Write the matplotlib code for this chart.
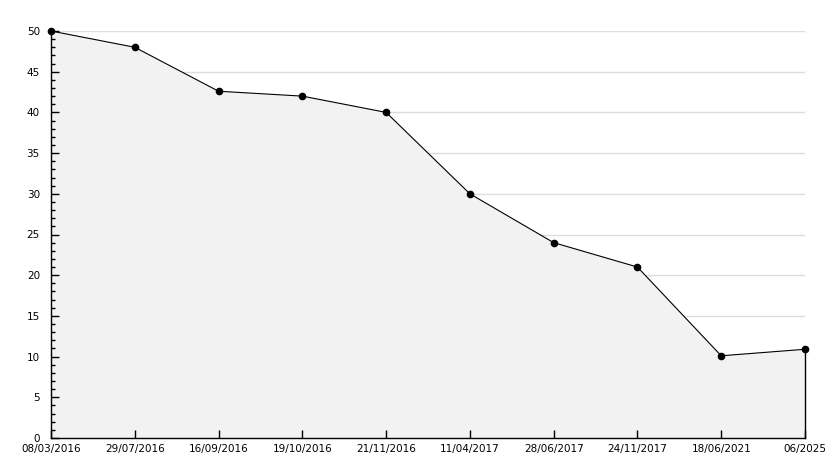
#!/usr/bin/env python3

import numpy as np
import matplotlib
matplotlib.use('Agg')
import matplotlib.pyplot as plt
from matplotlib.ticker import MultipleLocator

labels = ['08/03/2016', '29/07/2016', '16/09/2016', '19/10/2016', '21/11/2016',
          '11/04/2017', '28/06/2017', '24/11/2017', '18/06/2021', '06/2025']
values = [50, 48, 42.6, 42, 40, 30, 24, 21, 10.1, 10.9]

x = np.arange(len(labels))

fig = plt.figure(figsize=(8.34, 4.68), dpi=100)
ax = fig.add_axes([51/834, 30/468, 754/834, 407/468])

ax.set_xlim(x[0], x[-1])
ax.set_ylim(0, 50)
ax.set_xticks(x)
ax.set_xticklabels(labels)
ax.yaxis.set_major_locator(MultipleLocator(5))
ax.yaxis.set_minor_locator(MultipleLocator(1))

# grid drawn underneath the filled area
ax.hlines(np.arange(5, 51, 5), x[0], x[-1], color='#dddddd', lw=1.0, zorder=0)

ax.fill_between(x, values, 0, color='#f2f2f2', lw=0, zorder=1)
ax.plot(x, values, color='black', lw=0.8, marker='o', ms=4.5, zorder=4,
        clip_on=False)
# right edge of the filled area
ax.plot([x[-1], x[-1]], [0, values[-1]], color='black', lw=1.0, zorder=4,
        clip_on=False)

for s in ['top', 'right']:
    ax.spines[s].set_visible(False)
for s in ['left', 'bottom']:
    ax.spines[s].set_linewidth(1.0)
    ax.spines[s].set_zorder(5)

ax.tick_params(axis='both', which='major', direction='in', length=6, width=1,
               labelsize=7.5, colors='black')
ax.tick_params(axis='y', which='minor', direction='in', length=3, width=1)
ax.tick_params(axis='x', pad=4)
ax.tick_params(axis='y', pad=8)

fig.savefig('out.png', dpi=100)
